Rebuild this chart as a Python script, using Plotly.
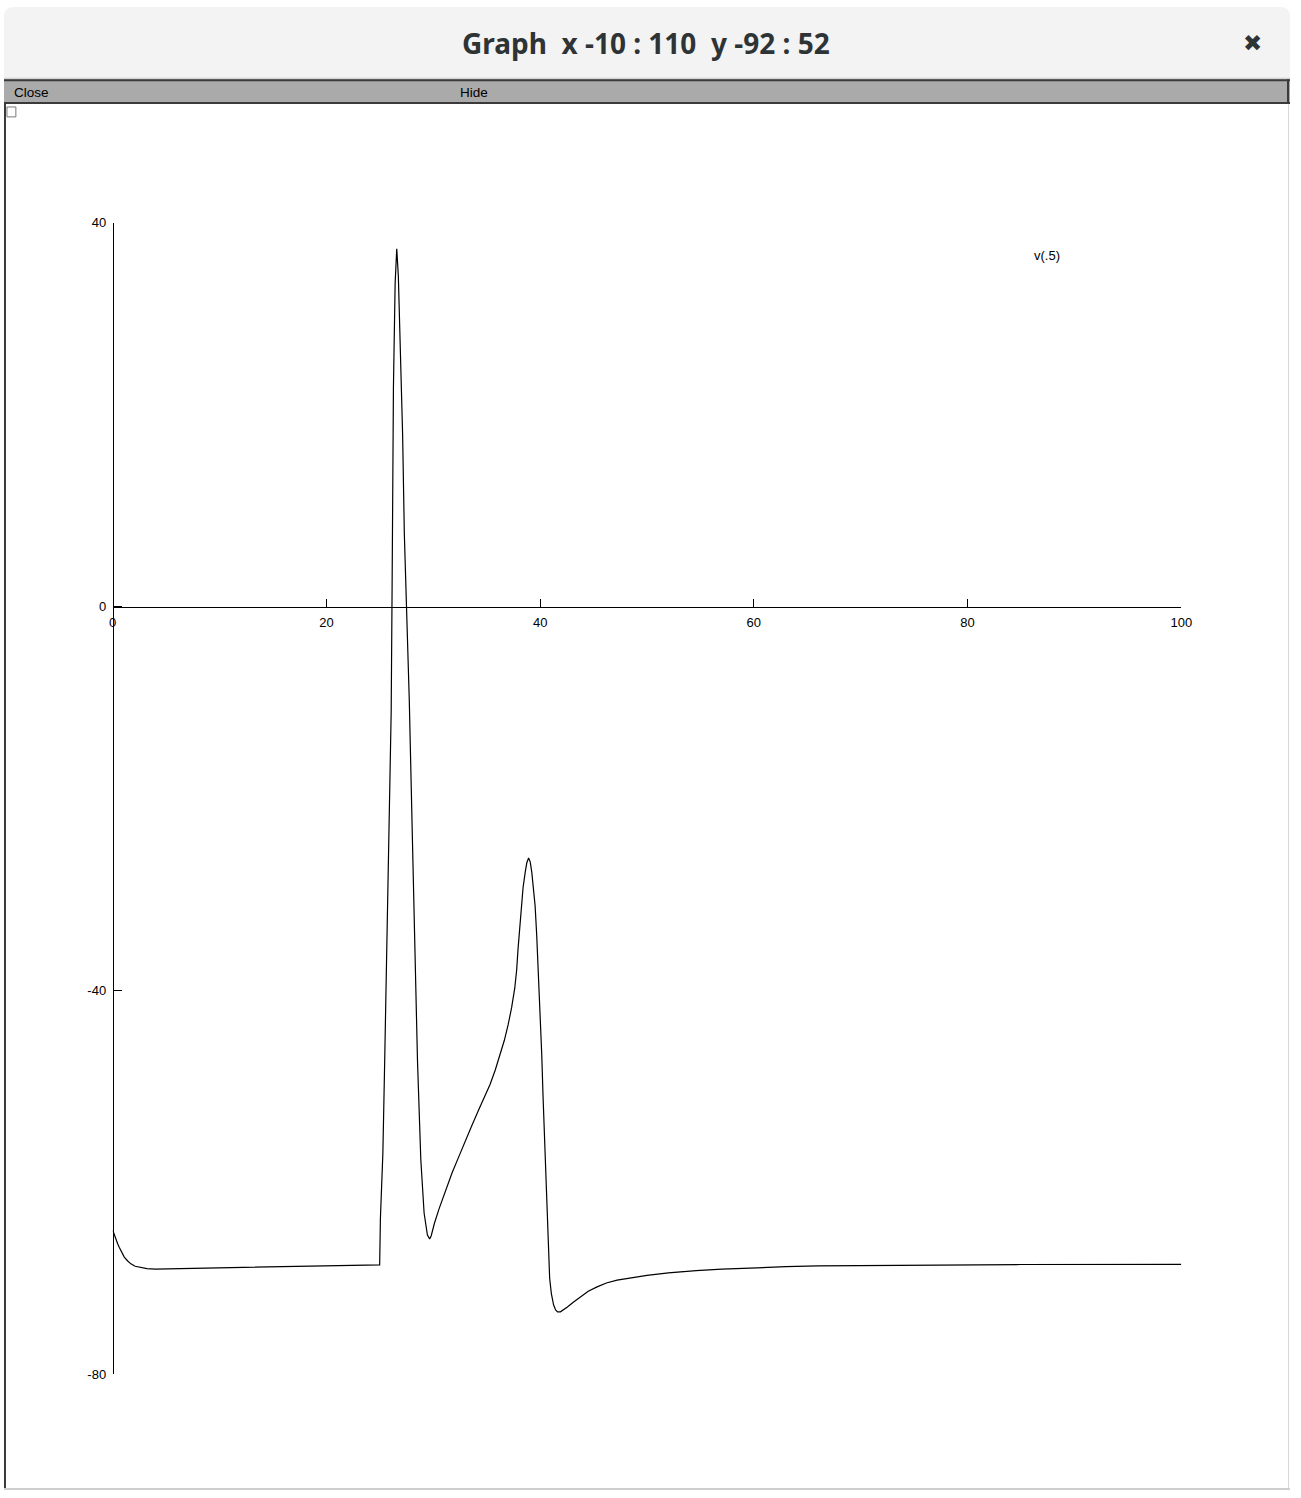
import plotly.graph_objects as go

W, H = 1301, 1498

# ---- data ----
t_ms = [0, 0.15, 0.31, 0.46, 0.62, 0.85, 1.08, 1.4, 1.7, 2.1, 2.6, 3.2, 4.0, 6.0, 8.0,
        10, 15, 20, 24.98,
        25.05, 25.28, 25.44, 25.60, 25.74, 25.90, 26.06, 26.15, 26.27, 26.43,
        26.58, 26.73, 26.92, 27.13, 27.29, 27.50, 27.75, 28.00, 28.21, 28.52,
        28.83, 29.14, 29.45, 29.66, 29.8, 30.1, 30.53, 31.1, 31.76, 32.4, 33.0,
        33.6, 34.23, 34.8, 35.31, 35.8, 36.24, 36.65, 37.0, 37.33, 37.62, 37.8,
        37.93, 38.08, 38.23, 38.4, 38.6, 38.75, 38.92, 39.07, 39.22, 39.38, 39.53,
        39.68, 39.84, 40.0, 40.15, 40.27, 40.4, 40.52, 40.64, 40.76, 40.89, 41.05,
        41.26, 41.45, 41.63, 41.9, 42.2, 42.55, 43.1, 43.78, 44.5, 45.33, 46.2,
        47.2, 48.5, 50, 52, 54.6, 57, 60, 63, 66, 70, 75, 85, 100]
v_mV = [-65.0, -65.5, -65.9, -66.4, -66.8, -67.3, -67.8, -68.2, -68.5, -68.75, -68.9, -69.0, -69.05, -69.0, -68.95,
        -68.9, -68.8, -68.7, -68.6,
        -63.8, -57.0, -48.0, -39.1, -30.2, -21.2, -10.9, 2.8, 22.8, 33.7,
        37.3, 34.4, 26.2, 17.9, 7.6, 0.1, -9.6, -22.0, -33.6, -47.3,
        -57.6, -63.2, -65.5, -65.9, -65.6, -64.3, -62.8, -61.0, -59.0, -57.3, -55.6,
        -54.1, -52.5, -51.1, -49.8, -48.3, -46.7, -45.2, -43.6, -41.8, -39.8, -37.9,
        -35.7, -33.4, -31.2, -29.3, -27.7, -26.7, -26.2, -26.6, -27.7, -29.2, -31.2,
        -34.3, -38.0, -42.3, -46.7, -51.0, -55.3, -59.6, -63.8, -67.3, -70.0, -71.6,
        -72.8, -73.3, -73.5, -73.5, -73.3, -73.0, -72.5, -71.9, -71.35, -70.9, -70.5,
        -70.2, -69.95, -69.7, -69.45, -69.2, -69.05, -68.9, -68.8, -68.72, -68.68, -68.62, -68.57, -68.55]

x_ticks = [0, 20, 40, 60, 80, 100]
y_ticks = [-80, -40, 0, 40]
series_label = "v(.5)"
window_title = "Graph\u00a0\u00a0x -10 : 110\u00a0\u00a0y -92 : 52"

# ---- pixel helpers for layout ----
def px(x):
    return x / W

def py(y):
    return 1 - y / H

x_dom = [px(110), px(1191)]
y_dom = [py(1381), py(218)]
x_range = [min(x_ticks), max(x_ticks)]
y_range = [min(y_ticks), max(y_ticks)]
x_axis_pos = y_dom[0] + (0 - y_range[0]) / (y_range[1] - y_range[0]) * (y_dom[1] - y_dom[0])
y_axis_pos = x_dom[0] + (0 - x_range[0]) / (x_range[1] - x_range[0]) * (x_dom[1] - x_dom[0])

fig = go.Figure()
fig.add_trace(go.Scatter(x=t_ms, y=v_mV, mode="lines",
                         line=dict(color="black", width=1.2), showlegend=False,
                         hoverinfo="skip"))

tickfont = dict(family="Liberation Sans, Arial, sans-serif", size=13, color="black")
fig.update_layout(
    width=W, height=H,
    margin=dict(l=0, r=0, t=0, b=0),
    paper_bgcolor="white", plot_bgcolor="white",
    xaxis=dict(domain=x_dom, range=x_range, anchor="free", position=x_axis_pos,
               showline=True, linecolor="black", linewidth=1,
               ticks="inside", ticklen=8, tickcolor="black", tickwidth=1,
               tickvals=x_ticks, ticktext=[str(v) for v in x_ticks],
               tickfont=tickfont, showgrid=False, zeroline=False,
               ticklabelstandoff=4, fixedrange=True),
    yaxis=dict(domain=y_dom, range=y_range, anchor="free", position=y_axis_pos,
               showline=True, linecolor="black", linewidth=1,
               ticks="inside", ticklen=8, tickcolor="black", tickwidth=1,
               tickvals=y_ticks, ticktext=[str(v) for v in y_ticks],
               tickfont=tickfont, showgrid=False, zeroline=False,
               ticklabelstandoff=4, fixedrange=True),
)

shapes = []
rx, ry = 10 / W, 10 / H
top, bot = 1.0, py(72)
shapes.append(dict(type="path", xref="paper", yref="paper",
                   path=(f"M 0,{bot} L 0,{top-ry} Q 0,{top} {rx},{top} "
                         f"L {1-rx},{top} Q 1,{top} 1,{top-ry} L 1,{bot} Z"),
                   fillcolor="#f3f3f3", line=dict(width=0), layer="below"))
shapes.append(dict(type="line", xref="paper", yref="paper", x0=0, x1=1, y0=py(72), y1=py(72),
                   line=dict(color="#c8c8c8", width=1)))
shapes.append(dict(type="rect", xref="paper", yref="paper", x0=0, x1=1, y0=py(98), y1=py(73),
                   fillcolor="#aaaaaa", line=dict(width=0)))
shapes.append(dict(type="line", xref="paper", yref="paper", x0=0, x1=1, y0=py(74), y1=py(74),
                   line=dict(color="#3a3a3a", width=2)))
shapes.append(dict(type="line", xref="paper", yref="paper", x0=0, x1=1, y0=py(97), y1=py(97),
                   line=dict(color="#3a3a3a", width=2)))
shapes.append(dict(type="line", xref="paper", yref="paper", x0=px(1299), x1=px(1299), y0=py(98), y1=py(73),
                   line=dict(color="#3a3a3a", width=2)))
shapes.append(dict(type="line", xref="paper", yref="paper", x0=px(1), x1=px(1), y0=py(1496), y1=py(98),
                   line=dict(color="#3a3a3a", width=2)))
shapes.append(dict(type="line", xref="paper", yref="paper", x0=px(1299.5), x1=px(1299.5), y0=py(1496), y1=py(98),
                   line=dict(color="#d8d8d8", width=1)))
shapes.append(dict(type="line", xref="paper", yref="paper", x0=0, x1=1, y0=py(1497), y1=py(1497),
                   line=dict(color="#cfcfcf", width=2)))
shapes.append(dict(type="rect", xref="paper", yref="paper", x0=px(3), x1=px(12), y0=py(111), y1=py(101),
                   fillcolor="white", line=dict(color="#777777", width=1)))
fig.update_layout(shapes=shapes)

ann = []
ann.append(dict(text=window_title, x=px(649), y=py(36), xref="paper", yref="paper",
                showarrow=False, xanchor="center", yanchor="middle",
                font=dict(family="Noto Sans, Open Sans, sans-serif", size=28, color="#2e3436", weight="bold")))
ann.append(dict(text="\u2716", x=px(1263), y=py(36), xref="paper", yref="paper",
                showarrow=False, xanchor="center", yanchor="middle",
                font=dict(family="DejaVu Sans, sans-serif", size=23, color="#2e3436")))
menu_font = dict(family="Liberation Sans, Arial, sans-serif", size=13.5, color="black")
ann.append(dict(text="Close", x=px(8), y=py(86), xref="paper", yref="paper",
                showarrow=False, xanchor="left", yanchor="middle", font=menu_font))
ann.append(dict(text="Hide", x=px(459), y=py(86), xref="paper", yref="paper",
                showarrow=False, xanchor="left", yanchor="middle", font=menu_font))
ann.append(dict(text=series_label, x=px(1040), y=py(251), xref="paper", yref="paper",
                showarrow=False, xanchor="left", yanchor="middle",
                font=dict(family="Liberation Sans, Arial, sans-serif", size=13, color="black")))
fig.update_layout(annotations=ann)

post = ("var d=document.getElementById('{plot_id}');"
        "d.style.position='fixed';d.style.left='0px';d.style.top='0px';"
        "document.documentElement.style.margin='0';document.documentElement.style.padding='0';"
        "document.body.style.margin='0';document.body.style.padding='0';"
        "document.documentElement.style.overflow='hidden';document.body.style.overflow='hidden';")
fig.write_html("out.html", post_script=post, config=dict(displayModeBar=False))
